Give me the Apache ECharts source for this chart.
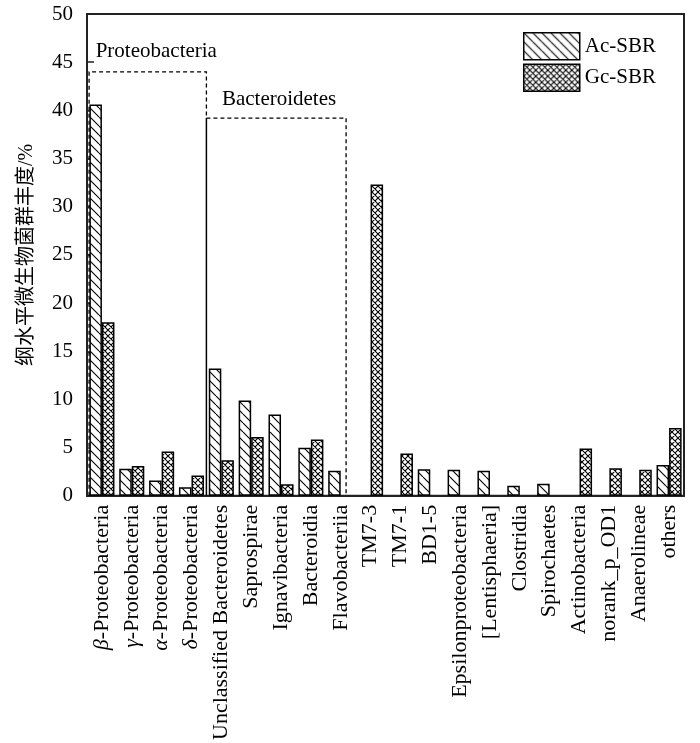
<!DOCTYPE html>
<html>
<head>
<meta charset="utf-8">
<script src="https://cdn.jsdelivr.net/npm/echarts@6/dist/echarts.min.js"></script>
<style>html,body{margin:0;padding:0;background:#fff;}#c{width:700px;height:743px;}</style>
</head>
<body>
<div id="c"></div>
<script>
const categories = ['{i|β}-Proteobacteria', '{i|γ}-Proteobacteria', '{i|α}-Proteobacteria', '{i|δ}-Proteobacteria',
  'Unclassified Bacteroidetes', 'Saprospirae', 'Ignavibacteria', 'Bacteroidia', 'Flavobacteriia',
  'TM7-3', 'TM7-1', 'BD1-5', 'Epsilonproteobacteria', '[Lentisphaeria]', 'Clostridia', 'Spirochaetes',
  'Actinobacteria', 'norank_p_OD1', 'Anaerolineae', 'others'];
const acValues = [40.6, 2.8, 1.6, 0.9, 13.2, 9.9, 8.45, 5.0, 2.6, null, null, 2.75, 2.7, 2.6, 1.05, 1.25, null, null, null, 3.2];
const gcValues = [18.0, 3.1, 4.6, 2.1, 3.7, 6.1, 1.2, 5.85, null, 32.3, 4.4, null, null, null, null, null, 4.9, 2.85, 2.7, 7.05];
const seriesNames = ['Ac-SBR', 'Gc-SBR'];
const yAxisName = '纲水平微生物菌群丰度/%';
// group annotations (category-index units, value units)
const groups = [
  {name: 'Proteobacteria', x0: -0.43, x1: 3.5, top: 44.0, labelX: -0.21, labelY: 46.1},
  {name: 'Bacteroidetes', x0: 3.5, x1: 8.18, top: 39.2, labelX: 4.02, labelY: 41.1}
];

const SERIF = 'Liberation Serif, Times New Roman, Noto Sans CJK SC, serif';

function makePattern(type) {
  const s = type === 'diag' ? 9 : 6;
  const cv = document.createElement('canvas');
  cv.width = s; cv.height = s;
  const g = cv.getContext('2d');
  g.fillStyle = '#fff'; g.fillRect(0, 0, s, s);
  g.strokeStyle = '#000'; g.lineWidth = 1.1;
  g.beginPath();
  for (const k of [-s, 0, s]) {
    g.moveTo(k, 0); g.lineTo(k + s, s);
    if (type === 'cross') { g.moveTo(k + s, 0); g.lineTo(k, s); }
  }
  g.stroke();
  return {image: cv, repeat: 'repeat'};
}

const chart = echarts.init(document.getElementById('c'), null, {renderer: 'canvas'});
const option = {
  animation: false,
  backgroundColor: '#fff',
  grid: {left: 87, right: 16, top: 14, bottom: 246, show: true, borderColor: '#222', borderWidth: 2, backgroundColor: 'transparent'},
  legend: {
    left: 523, top: 32, orient: 'vertical', itemWidth: 56, itemHeight: 27, itemGap: 3, padding: 0,
    icon: 'rect',
    textStyle: {fontFamily: SERIF, fontSize: 21, color: '#000'},
    itemStyle: {borderColor: '#000', borderWidth: 1.5},
    data: seriesNames
  },
  xAxis: {
    type: 'category', data: categories,
    axisLine: {lineStyle: {color: '#222', width: 2}},
    axisTick: {show: false},
    axisLabel: {
      interval: 0, rotate: 90, margin: 9, color: '#000', fontFamily: SERIF, fontSize: 22,
      rich: {i: {fontStyle: 'italic', fontFamily: SERIF, fontSize: 22, color: '#000'}}
    }
  },
  yAxis: {
    type: 'value', min: 0, max: 50, interval: 5,
    name: yAxisName, nameLocation: 'middle', nameGap: 50,
    nameTextStyle: {fontFamily: SERIF, fontSize: 20, color: '#000'},
    axisLine: {show: true, lineStyle: {color: '#222', width: 2}},
    axisTick: {show: true, inside: true, length: 7, lineStyle: {color: '#222', width: 1.5}},
    axisLabel: {margin: 14, color: '#000', fontFamily: SERIF, fontSize: 21},
    splitLine: {show: false}
  },
  series: [
    {name: seriesNames[0], type: 'bar', data: acValues, barGap: '0%', barCategoryGap: '16%',
     itemStyle: {color: makePattern('diag'), borderColor: '#000', borderWidth: 1.5}},
    {name: seriesNames[1], type: 'bar', data: gcValues, barGap: '0%', barCategoryGap: '16%',
     itemStyle: {color: makePattern('cross'), borderColor: '#000', borderWidth: 1.5}}
  ]
};
chart.setOption(option);

function px(ix, v) {
  const p0 = chart.convertToPixel({xAxisIndex: 0}, 0);
  const p1 = chart.convertToPixel({xAxisIndex: 0}, 1);
  const x = p0 + (p1 - p0) * ix;
  const y = chart.convertToPixel({yAxisIndex: 0}, v);
  return [x, y];
}
const dash = {stroke: '#000', lineWidth: 1.3, lineDash: [4, 3], fill: null};
const solid = {stroke: '#000', lineWidth: 1.5, fill: null};
const graphics = [];
const g0 = groups[0], g1 = groups[1];
const a0 = px(g0.x0, g0.top), a1 = px(g0.x1, g0.top), b1 = px(g1.x1, g1.top), base = px(g1.x1, 0);
const midTop = px(g0.x1, g1.top), midBase = px(g0.x1, 0), leftBase = px(g0.x0, 0);
graphics.push({type: 'polyline', silent: true, shape: {points: [leftBase, a0, a1, midTop]}, style: dash, z: 10});
graphics.push({type: 'line', silent: true, shape: {x1: midTop[0], y1: midTop[1], x2: midBase[0], y2: midBase[1]}, style: solid, z: 10});
graphics.push({type: 'polyline', silent: true, shape: {points: [midTop, b1, base]}, style: dash, z: 10});
for (const g of groups) {
  const p = px(g.labelX, g.labelY);
  graphics.push({type: 'text', silent: true, x: p[0], y: p[1], z: 11,
    style: {text: g.name, fontFamily: SERIF, fontSize: 21, fill: '#000', textAlign: 'left', textVerticalAlign: 'middle'}});
}
chart.setOption({graphic: graphics});
</script>
</body>
</html>
